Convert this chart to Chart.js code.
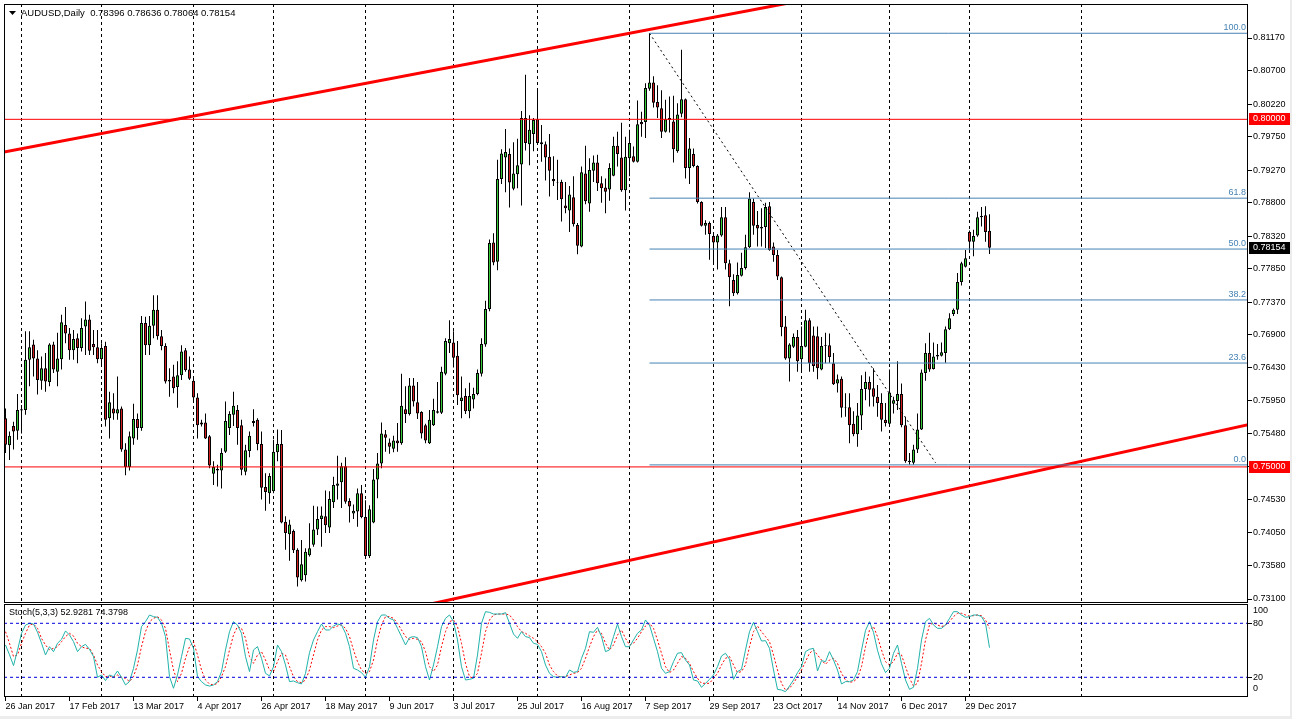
<!DOCTYPE html>
<html>
<head>
<meta charset="utf-8">
<script src="https://cdn.jsdelivr.net/npm/chart.js@4.4.1/dist/chart.umd.min.js"></script>
<style>
html, body { margin: 0; padding: 0; background: #ececec; }
#wrap { position: relative; width: 1292px; height: 719px; overflow: hidden; background: #ececec; }
canvas { position: absolute; left: 0; background: #fff; }
#main { top: 0; }
#stoch { top: 603px; }
</style>
</head>
<body>
<div id="wrap">
  <canvas id="main" width="1290" height="604"></canvas>
  <canvas id="stoch" width="1290" height="113"></canvas>
</div>
<script>
// AUDUSD daily candles, 26 Jan 2017 .. 9 Jan 2018 (one entry per bar)
const open = [
  0.7570,0.7531,0.7559,0.7552,0.7581,0.7582,0.7654,0.7676,0.7656,0.7624,
  0.7642,0.7622,0.7676,0.7637,0.7655,0.7704,0.7692,0.7668,0.7685,0.7671,
  0.7702,0.7712,0.7677,0.7672,0.7655,0.7674,0.7570,0.7584,0.7577,0.7584,
  0.7525,0.7500,0.7541,0.7569,0.7556,0.7707,0.7675,0.7703,0.7726,0.7688,
  0.7674,0.7625,0.7630,0.7615,0.7632,0.7668,0.7640,0.7624,0.7600,0.7561,
  0.7564,0.7544,0.7490,0.7497,0.7495,0.7522,0.7556,0.7575,0.7582,0.7560,
  0.7493,0.7523,0.7563,0.7568,0.7533,0.7471,0.7462,0.7465,0.7521,0.7533,
  0.7421,0.7403,0.7408,0.7381,0.7337,0.7344,0.7373,0.7388,0.7410,0.7425,
  0.7429,0.7413,0.7449,0.7473,0.7478,0.7501,0.7451,0.7433,0.7436,0.7462,
  0.7428,0.7372,0.7420,0.7482,0.7505,0.7547,0.7535,0.7526,0.7538,0.7534,
  0.7583,0.7576,0.7617,0.7593,0.7579,0.7560,0.7534,0.7560,0.7578,0.7578,
  0.7634,0.7678,0.7679,0.7660,0.7595,0.7602,0.7580,0.7597,0.7605,0.7634,
  0.7676,0.7727,0.7823,0.7795,0.7914,0.7945,0.7950,0.7900,0.7921,0.7935,
  0.8002,0.7964,0.7979,0.8000,0.7967,0.7964,0.7946,0.7914,0.7910,0.7910,
  0.7876,0.7869,0.7888,0.7848,0.7817,0.7922,0.7879,0.7926,0.7938,0.7908,
  0.7902,0.7899,0.7919,0.7962,0.7945,0.7898,0.7944,0.7947,0.7939,0.7996,
  0.7996,0.8044,0.8053,0.8025,0.8016,0.7982,0.8002,0.7997,0.7954,0.8008,
  0.8029,0.7930,0.7950,0.7933,0.7881,0.7847,0.7851,0.7832,0.7823,0.7833,
  0.7859,0.7793,0.7769,0.7750,0.7775,0.7786,0.7816,0.7881,0.7848,0.7845,
  0.7845,0.7875,0.7817,0.7805,0.7773,0.7702,0.7656,0.7673,0.7687,0.7655,
  0.7673,0.7711,0.7689,0.7688,0.7640,0.7675,0.7675,0.7649,0.7620,0.7627,
  0.7586,0.7586,0.7562,0.7547,0.7574,0.7612,0.7622,0.7613,0.7601,0.7592,
  0.7568,0.7562,0.7591,0.7595,0.7605,0.7560,0.7509,0.7506,0.7525,0.7554,
  0.7635,0.7664,0.7641,0.7659,0.7660,0.7664,0.7698,0.7720,0.7726,0.7766,
  0.7788,0.7838,0.7824,0.7833,0.7859,0.7862,0.78396
];
const high = [
  0.7584,0.7551,0.7565,0.7605,0.7589,0.7695,0.7695,0.7683,0.7668,0.7659,
  0.7664,0.7678,0.7680,0.7693,0.7719,0.7730,0.7700,0.7697,0.7692,0.7714,
  0.7738,0.7719,0.7697,0.7697,0.7678,0.7680,0.7608,0.7606,0.7630,0.7587,
  0.7534,0.7551,0.7591,0.7577,0.7717,0.7716,0.7717,0.7747,0.7747,0.7697,
  0.7678,0.7642,0.7647,0.7652,0.7675,0.7671,0.7659,0.7630,0.7606,0.7568,
  0.7577,0.7546,0.7508,0.7503,0.7527,0.7594,0.7580,0.7608,0.7589,0.7568,
  0.7532,0.7551,0.7583,0.7570,0.7551,0.7491,0.7491,0.7539,0.7554,0.7553,
  0.7429,0.7424,0.7410,0.7383,0.7395,0.7383,0.7419,0.7444,0.7443,0.7443,
  0.7466,0.7465,0.7486,0.7516,0.7506,0.7514,0.7455,0.7446,0.7469,0.7474,
  0.7452,0.7445,0.7497,0.7520,0.7564,0.7553,0.7541,0.7545,0.7563,0.7634,
  0.7616,0.7628,0.7628,0.7622,0.7580,0.7562,0.7582,0.7598,0.7622,0.7644,
  0.7685,0.7711,0.7695,0.7681,0.7630,0.7613,0.7621,0.7614,0.7640,0.7685,
  0.7739,0.7827,0.7836,0.7942,0.7957,0.7986,0.7958,0.7967,0.7972,0.8012,
  0.8064,0.8006,0.8002,0.8045,0.7992,0.7968,0.7979,0.7947,0.7942,0.7913,
  0.7910,0.7904,0.7918,0.7851,0.7932,0.7962,0.7944,0.7948,0.7949,0.7918,
  0.7915,0.7937,0.7975,0.7982,0.7995,0.7975,0.7985,0.7961,0.8027,0.8011,
  0.8052,0.8124,0.8062,0.8049,0.8042,0.8028,0.8033,0.8034,0.8023,0.8100,
  0.8030,0.7973,0.7958,0.7934,0.7882,0.7855,0.7853,0.7837,0.7835,0.7874,
  0.7874,0.7798,0.7777,0.7794,0.7808,0.7834,0.7895,0.7886,0.7868,0.7872,
  0.7880,0.7881,0.7823,0.7812,0.7774,0.7717,0.7678,0.7692,0.7697,0.7702,
  0.7726,0.7714,0.7702,0.7702,0.7687,0.7693,0.7692,0.7664,0.7633,0.7630,
  0.7606,0.7606,0.7580,0.7592,0.7632,0.7637,0.7630,0.7642,0.7618,0.7606,
  0.7592,0.7640,0.7601,0.7652,0.7620,0.7572,0.7520,0.7532,0.7577,0.7640,
  0.7678,0.7693,0.7679,0.7677,0.7679,0.7702,0.7721,0.7728,0.7779,0.7795,
  0.7812,0.7840,0.7841,0.7867,0.7874,0.7875,0.78636
];
const low = [
  0.7520,0.7510,0.7525,0.7539,0.7548,0.7575,0.7616,0.7630,0.7604,0.7611,
  0.7608,0.7616,0.7635,0.7616,0.7640,0.7678,0.7654,0.7654,0.7649,0.7666,
  0.7661,0.7661,0.7661,0.7649,0.7644,0.7558,0.7541,0.7568,0.7568,0.7522,
  0.7488,0.7495,0.7532,0.7539,0.7552,0.7661,0.7661,0.7685,0.7683,0.7668,
  0.7620,0.7601,0.7606,0.7585,0.7625,0.7637,0.7625,0.7594,0.7541,0.7558,
  0.7540,0.7498,0.7474,0.7472,0.7469,0.7520,0.7546,0.7559,0.7532,0.7488,
  0.7488,0.7514,0.7558,0.7524,0.7453,0.7437,0.7447,0.7462,0.7508,0.7419,
  0.7381,0.7365,0.7376,0.7328,0.7335,0.7335,0.7371,0.7385,0.7402,0.7385,
  0.7405,0.7405,0.7441,0.7453,0.7441,0.7447,0.7420,0.7425,0.7414,0.7426,
  0.7369,0.7369,0.7419,0.7455,0.7498,0.7522,0.7519,0.7521,0.7522,0.7532,
  0.7563,0.7574,0.7587,0.7569,0.7541,0.7534,0.7533,0.7559,0.7577,0.7576,
  0.7632,0.7664,0.7643,0.7589,0.7570,0.7576,0.7570,0.7584,0.7603,0.7630,
  0.7673,0.7724,0.7790,0.7783,0.7907,0.7895,0.7873,0.7898,0.7901,0.7876,
  0.7955,0.7934,0.7954,0.7963,0.7939,0.7912,0.7889,0.7904,0.7884,0.7853,
  0.7865,0.7838,0.7846,0.7806,0.7816,0.7878,0.7867,0.7910,0.7897,0.7880,
  0.7865,0.7883,0.7918,0.7932,0.7896,0.7869,0.7918,0.7938,0.7938,0.7975,
  0.7973,0.8041,0.8017,0.8002,0.7973,0.7981,0.7981,0.7938,0.7952,0.8003,
  0.7915,0.7907,0.7931,0.7879,0.7846,0.7834,0.7798,0.7793,0.7784,0.7831,
  0.7784,0.7731,0.7746,0.7748,0.7774,0.7784,0.7815,0.7834,0.7817,0.7817,
  0.7815,0.7811,0.7795,0.7769,0.7688,0.7654,0.7623,0.7671,0.7637,0.7637,
  0.7672,0.7637,0.7637,0.7626,0.7639,0.7649,0.7650,0.7618,0.7607,0.7571,
  0.7572,0.7534,0.7544,0.7529,0.7553,0.7596,0.7587,0.7587,0.7572,0.7551,
  0.7558,0.7560,0.7577,0.7582,0.7557,0.7506,0.7503,0.7503,0.7520,0.7553,
  0.7624,0.7637,0.7640,0.7654,0.7659,0.7650,0.7697,0.7717,0.7720,0.7761,
  0.7787,0.7810,0.7803,0.7831,0.7846,0.7824,0.78064
];
const close = [
  0.7532,0.7545,0.7551,0.7582,0.7583,0.7654,0.7672,0.7656,0.7625,0.7642,
  0.7623,0.7676,0.7640,0.7656,0.7708,0.7692,0.7668,0.7684,0.7671,0.7700,
  0.7712,0.7667,0.7672,0.7655,0.7671,0.7568,0.7593,0.7577,0.7583,0.7525,
  0.7500,0.7544,0.7569,0.7556,0.7707,0.7675,0.7703,0.7726,0.7688,0.7674,
  0.7623,0.7623,0.7613,0.7632,0.7666,0.7639,0.7627,0.7600,0.7560,0.7564,
  0.7541,0.7502,0.7500,0.7495,0.7520,0.7566,0.7576,0.7588,0.7556,0.7496,
  0.7524,0.7545,0.7566,0.7533,0.7470,0.7464,0.7487,0.7522,0.7533,0.7420,
  0.7405,0.7417,0.7380,0.7341,0.7360,0.7378,0.7383,0.7410,0.7425,0.7430,
  0.7416,0.7454,0.7474,0.7476,0.7501,0.7450,0.7443,0.7437,0.7462,0.7428,
  0.7372,0.7439,0.7482,0.7505,0.7548,0.7542,0.7529,0.7538,0.7534,0.7588,
  0.7576,0.7617,0.7594,0.7577,0.7548,0.7538,0.7568,0.7582,0.7580,0.7637,
  0.7681,0.7684,0.7657,0.7603,0.7600,0.7580,0.7602,0.7605,0.7635,0.7677,
  0.7727,0.7822,0.7794,0.7914,0.7951,0.7953,0.7909,0.7922,0.7934,0.8002,
  0.7966,0.7985,0.7999,0.7966,0.7964,0.7945,0.7926,0.7911,0.7909,0.7885,
  0.7872,0.7892,0.7849,0.7818,0.7924,0.7882,0.7927,0.7938,0.7908,0.7901,
  0.7896,0.7930,0.7962,0.7950,0.7898,0.7946,0.7966,0.7939,0.7993,0.7993,
  0.8045,0.8053,0.8024,0.8017,0.7982,0.8000,0.7999,0.7957,0.8007,0.8029,
  0.7930,0.7958,0.7933,0.7881,0.7847,0.7851,0.7835,0.7823,0.7833,0.7859,
  0.7793,0.7773,0.7750,0.7776,0.7786,0.7816,0.7886,0.7847,0.7843,0.7843,
  0.7874,0.7812,0.7805,0.7774,0.7701,0.7656,0.7676,0.7687,0.7652,0.7674,
  0.7711,0.7649,0.7645,0.7642,0.7674,0.7674,0.7658,0.7619,0.7626,0.7585,
  0.7585,0.7560,0.7547,0.7574,0.7612,0.7622,0.7611,0.7601,0.7592,0.7568,
  0.7563,0.7607,0.7596,0.7605,0.7560,0.7508,0.7507,0.7525,0.7554,0.7636,
  0.7664,0.7640,0.7659,0.7661,0.7665,0.7698,0.7714,0.7726,0.7766,0.7793,
  0.7800,0.7824,0.7832,0.7859,0.7861,0.7838,0.78154
];

// Stochastic(5,3,3): main and signal line, read per bar
const stochMain = [
  55.9,45,33,50,68.9,78,80,79.2,70,58,
  44.8,54,48.5,57.8,62.2,71.5,67,59.6,48.5,54,
  56.6,51,43,20,22.6,16.3,22.6,20.7,27,20,
  11.5,15.2,30,50.4,76.3,81.8,89.2,87.4,86.6,80,
  65.2,20.7,7.8,22.6,43,63.3,62.6,52.2,20.7,15.2,
  11.5,10.3,11.5,15.2,26.3,50.4,70.7,81.8,78.1,68.9,
  43,26.3,50.4,54,41.1,24.4,21.5,31.8,55.9,48.5,
  33.7,15.2,15.9,14,12.6,24.4,47.4,61.5,70.7,79.2,
  72.6,72.6,77,79.2,78.1,68.9,54,30,28.1,25.2,
  20,31.8,61.5,81.8,89.2,89.2,85.5,83.7,74.4,65.2,
  55.9,64.1,65.2,64.1,54,31.8,17,33.7,54,76.3,
  85.5,89.2,81.8,61.5,31.8,17,17.7,18.9,44.8,80,
  92.9,92.2,90.3,90.3,90.3,91.8,80,68,63.3,70.7,
  65.2,64.1,57.8,56.6,48.5,33.7,24.4,20.7,20,20.7,
  20,28.1,25.5,26.3,41.1,52.2,70.7,70,75.5,65.2,
  48.5,50.4,65.2,79.2,65.2,54,54,61.5,68.9,72.6,
  83.7,78.1,63.3,48.5,30,24.4,26.3,37.4,46.7,47.4,
  39.2,33.7,17,15.9,8.9,13.3,17.7,22.6,31.8,43.7,
  46.7,40,17.7,26.3,28.9,50.4,70.7,81.1,70.7,60.3,
  60.7,52.2,28.1,6.6,5.9,4,10.3,17,25.2,31.8,
  48.5,51.1,52.2,27,38.5,37.4,48.5,39.2,28.1,12.6,
  15.2,15.2,17,26.3,50,72,81.8,70,50,35,
  25.2,30,46.7,55.9,35.5,17,6.6,8.9,30,61.5,
  81.8,85.5,78.1,74.4,74.4,78.1,85.5,92.9,92.9,89.2,
  86.6,87.4,89.2,89.2,87.4,80,52.9281
];
const stochSignal = [
  70.7,57.8,43,44.8,57.8,68.9,78.1,79.2,74.4,63.3,
  55.9,50.4,52.2,54,59.6,65.2,68.9,65.9,57.8,54,
  52.2,52.2,44.8,33.7,26.3,20.7,21.5,20,22.6,20,
  18.9,15.2,20.7,33.7,54,70.7,81.8,85.5,87.4,83.7,
  74.4,50.4,28.1,15.2,24.4,41.1,54,59.6,44.8,28.1,
  17,12.6,11.5,13.3,20.7,31.8,50.4,67,76.3,74.4,
  63.3,43,35.5,44.8,48.5,39.2,28.1,26.3,37.4,46.7,
  44.8,31.8,20.7,15.2,14,17,28.1,44.8,61.5,72.6,
  76.3,76.3,75.2,77,78.1,74.4,65.2,50.4,37.4,28.1,
  24.4,26.3,39.2,61.5,78.1,87.4,87.4,85.5,80,72.6,
  65.2,62.2,63.3,62.2,59.6,48.5,31.8,26.3,33.7,54,
  70.7,81.8,83.7,76.3,57.8,35.5,20.7,18.9,24.4,46.7,
  70.7,83.7,89.2,90.3,90.3,90.3,89.2,83.7,76.3,70.7,
  68.9,65.9,63.3,59.6,54,46.7,33.7,26.3,21.5,20,
  20.7,22.6,24.4,25.2,30,41.1,54,65.2,72.6,68.9,
  57.8,50.4,55.9,67,72.6,63.3,55.9,57.8,63.3,70.7,
  77,80,74.4,61.5,46.7,31.8,25.2,28.1,35.5,43,
  41.1,35.5,26.3,18.9,13.3,13.3,13.3,18.9,24.4,33.7,
  41.1,43,33.7,25.2,26.3,33.7,54,70.7,77,70.7,
  65.2,59.6,44.8,28.1,13.3,5.9,7.8,13.3,20.7,28.1,
  37.4,46.7,50.4,44.8,39.2,34.4,39.2,41.1,35.5,24.4,
  17,14.4,15.2,18.9,31.8,54,72.6,76.3,65.2,50.4,
  37.4,33.7,37.4,46.7,44.8,31.8,18.9,10.3,13.3,35.5,
  61.5,78.1,80.7,78.1,76.3,78.1,81.8,87.4,91.1,91.1,
  89.2,88.1,88.5,89.2,88.5,83.7,74.3798
];

// axis ticks and labels
const priceTicks = [0.8117,0.8070,0.8022,0.7975,0.7927,0.7880,0.7832,0.7785,0.7737,
                    0.7690,0.7643,0.7595,0.7548,0.7500,0.7453,0.7405,0.7358,0.7310];
const dateLabels = ['26 Jan 2017','17 Feb 2017','13 Mar 2017','4 Apr 2017','26 Apr 2017','18 May 2017',
                    '9 Jun 2017','3 Jul 2017','25 Jul 2017','16 Aug 2017','7 Sep 2017','29 Sep 2017',
                    '23 Oct 2017','14 Nov 2017','6 Dec 2017','29 Dec 2017'];
const dateLabelBars = [0,16,32,48,64,80,96,112,128,144,160,176,192,208,224,240];
const monthStartBars = [4,24,47,67,90,112,133,156,177,199,221,241,269];
const stochLevels = [80, 20];

// objects drawn on the chart
const hLevels = [0.80000, 0.75000];
const fibLevels = [0.81238, 0.78866, 0.78134, 0.77402, 0.76494, 0.75029];
const fibNames = ['100.0', '61.8', '50.0', '38.2', '23.6', '0.0'];
const fibStartBar = 161;
const fibDiagBars = [161, 232.5];
const fibDiagPrices = [0.81238, 0.75060];
const upperTrendBars = [-0.375, 230];
const upperTrendPrices = [0.79528, 0.82047];
const lowerTrendBars = [100, 311];
const lowerTrendPrices = [0.72949, 0.75611];

const FONT = '"Liberation Sans", Arial, sans-serif';
const BULL = '#35cc35';
const BEAR = '#d21e1e';
const FIB = '#4682b4';
const X_MIN = -0.375, X_MAX = 310.625;

const last = close.length - 1;
const bars = close.map((_, i) => i);

function seg(xs, ys, color, width, dash) {
  return {
    type: 'line',
    data: xs.map((x, k) => ({ x: x, y: ys[k] })),
    borderColor: color, borderWidth: width, borderDash: dash || [],
    pointRadius: 0, fill: false, tension: 0, clip: 0, order: 0
  };
}

// keep the plot area exactly where the layout padding puts it
function noEdgePadding(s) {
  s.paddingTop = 0; s.paddingBottom = 0; s.paddingLeft = 0; s.paddingRight = 0;
}

function drawMonthGrid(chart) {
  const { ctx, chartArea: a, scales: { x } } = chart;
  ctx.save();
  ctx.strokeStyle = '#000';
  ctx.lineWidth = 1;
  ctx.setLineDash([3, 3]);
  monthStartBars.forEach(b => {
    const px = Math.floor(x.getPixelForValue(b)) + 0.5;
    ctx.beginPath();
    ctx.moveTo(px, a.top);
    ctx.lineTo(px, a.bottom);
    ctx.stroke();
  });
  ctx.restore();
}

function drawFrame(chart) {
  const { ctx, chartArea: a } = chart;
  ctx.save();
  ctx.strokeStyle = '#000';
  ctx.lineWidth = 1;
  ctx.strokeRect(a.left + 0.5, a.top + 0.5, a.right - a.left - 1, a.bottom - a.top - 1);
  ctx.restore();
}

const mainDecor = {
  id: 'mainDecor',
  beforeDatasetsDraw(chart) { drawMonthGrid(chart); },
  afterDraw(chart) {
    const { ctx, chartArea: a, scales: { y } } = chart;
    ctx.save();
    ctx.font = '9px ' + FONT;
    // fibo level names
    ctx.fillStyle = FIB;
    ctx.textAlign = 'right';
    ctx.textBaseline = 'bottom';
    fibLevels.forEach((lv, k) => ctx.fillText(fibNames[k], a.right - 2, y.getPixelForValue(lv) - 1));
    // title
    ctx.fillStyle = '#000';
    ctx.beginPath();
    ctx.moveTo(9, 11); ctx.lineTo(16, 11); ctx.lineTo(12.5, 15); ctx.closePath(); ctx.fill();
    ctx.font = '9.5px ' + FONT;
    ctx.textAlign = 'left';
    ctx.textBaseline = 'middle';
    ctx.fillText('AUDUSD,Daily  ' + open[last].toFixed(5) + ' ' + high[last].toFixed(5) + ' ' +
                 low[last].toFixed(5) + ' ' + close[last].toFixed(5), 21, 13);
    ctx.restore();
    drawFrame(chart);
    // price tags on the axis
    const tagPrices = [hLevels[0], hLevels[1], close[last]];
    const tagColors = ['#ff0000', '#ff0000', '#000000'];
    ctx.save();
    ctx.font = '9px ' + FONT;
    ctx.textBaseline = 'middle';
    ctx.textAlign = 'left';
    tagPrices.forEach((p, k) => {
      const py = Math.round(y.getPixelForValue(p));
      ctx.fillStyle = tagColors[k];
      ctx.fillRect(a.right + 1, py - 6, 42, 12);
      ctx.fillStyle = '#fff';
      ctx.fillText(p.toFixed(5), a.right + 5, py);
    });
    ctx.restore();
  }
};

const stochDecor = {
  id: 'stochDecor',
  beforeDatasetsDraw(chart) { drawMonthGrid(chart); },
  afterDraw(chart) {
    const { ctx, chartArea: a } = chart;
    drawFrame(chart);
    ctx.save();
    ctx.font = '9px ' + FONT;
    ctx.fillStyle = '#000';
    ctx.textBaseline = 'middle';
    ctx.textAlign = 'left';
    ctx.fillText('Stoch(5,3,3) ' + stochMain[last].toFixed(4) + ' ' + stochSignal[last].toFixed(4), 9, 10);
    ctx.fillText('100', a.right + 5, 8);
    ctx.fillText('0', a.right + 5, 86);
    ctx.restore();
  }
};

Chart.defaults.font.family = FONT;
Chart.defaults.font.size = 9;
Chart.defaults.color = '#000';

const mainDatasets = [
  seg([X_MIN, X_MAX], [hLevels[0], hLevels[0]], '#ff0000', 1),
  seg([X_MIN, X_MAX], [hLevels[1], hLevels[1]], '#ff0000', 1),
  ...fibLevels.map(lv => seg([fibStartBar, X_MAX], [lv, lv], FIB, 1)),
  seg(fibDiagBars, fibDiagPrices, '#000', 1, [2, 3]),
  seg(upperTrendBars, upperTrendPrices, '#ff0000', 3),
  seg(lowerTrendBars, lowerTrendPrices, '#ff0000', 3),
  {
    type: 'bar', order: 1, grouped: false,
    data: bars.map(i => ({ x: i, y: [Math.min(open[i], close[i]), Math.max(open[i], close[i])] })),
    backgroundColor: bars.map(i => close[i] >= open[i] ? BULL : BEAR),
    borderColor: '#000', borderWidth: 1, borderSkipped: false, barThickness: 3, inflateAmount: 0
  },
  {
    type: 'bar', order: 2, grouped: false,
    data: bars.map(i => ({ x: i, y: [low[i], high[i]] })),
    backgroundColor: '#000', borderWidth: 0, barThickness: 1, inflateAmount: 0
  }
];

new Chart(document.getElementById('main'), {
  type: 'bar',
  data: { datasets: mainDatasets },
  options: {
    responsive: false, animation: false, devicePixelRatio: 1, events: [],
    layout: { padding: { left: 4, top: 4, right: 0, bottom: 1 } },
    plugins: { legend: { display: false }, tooltip: { enabled: false } },
    scales: {
      x: { type: 'linear', display: false, min: X_MIN, max: X_MAX, offset: false },
      y: {
        type: 'linear', position: 'right', min: 0.730425, max: 0.816591,
        afterBuildTicks: s => { s.ticks = priceTicks.map(v => ({ value: v })); },
        afterFit: s => { s.width = 42; noEdgePadding(s); },
        border: { display: false },
        grid: { drawOnChartArea: false, drawTicks: true, tickLength: 4, color: '#000' },
        ticks: { padding: 1, autoSkip: false, callback: v => v.toFixed(5) }
      }
    }
  },
  plugins: [mainDecor]
});

new Chart(document.getElementById('stoch'), {
  type: 'line',
  data: {
    datasets: [
      ...stochLevels.map(lv => seg([X_MIN, X_MAX], [lv, lv], '#0000dd', 1, [3, 3])),
      {
        data: bars.map(i => ({ x: i, y: stochSignal[i] })),
        borderColor: '#ff0000', borderWidth: 1, borderDash: [2, 2], pointRadius: 0, tension: 0, order: 1
      },
      {
        data: bars.map(i => ({ x: i, y: stochMain[i] })),
        borderColor: '#20b2aa', borderWidth: 1, pointRadius: 0, tension: 0, order: 0
      }
    ]
  },
  options: {
    responsive: false, animation: false, devicePixelRatio: 1, events: [],
    layout: { padding: { left: 4, top: 1, right: 0, bottom: 0 } },
    plugins: { legend: { display: false }, tooltip: { enabled: false } },
    scales: {
      x: {
        type: 'linear', min: X_MIN, max: X_MAX, offset: false,
        afterBuildTicks: s => { s.ticks = dateLabelBars.map(v => ({ value: v })); },
        afterFit: s => { s.height = 19; noEdgePadding(s); },
        border: { display: false },
        grid: { drawOnChartArea: false, drawTicks: true, tickLength: 4, color: '#000' },
        ticks: { align: 'start', padding: 0, maxRotation: 0, autoSkip: false,
                 callback: (v, k) => dateLabels[k] }
      },
      y: {
        type: 'linear', position: 'right', min: -1.9, max: 101.44,
        afterBuildTicks: s => { s.ticks = stochLevels.map(v => ({ value: v })); },
        afterFit: s => { s.width = 42; noEdgePadding(s); },
        border: { display: false },
        grid: { drawOnChartArea: false, drawTicks: true, tickLength: 4, color: '#000' },
        ticks: { padding: 1, autoSkip: false, callback: v => String(v) }
      }
    }
  },
  plugins: [stochDecor]
});
</script>
</body>
</html>
